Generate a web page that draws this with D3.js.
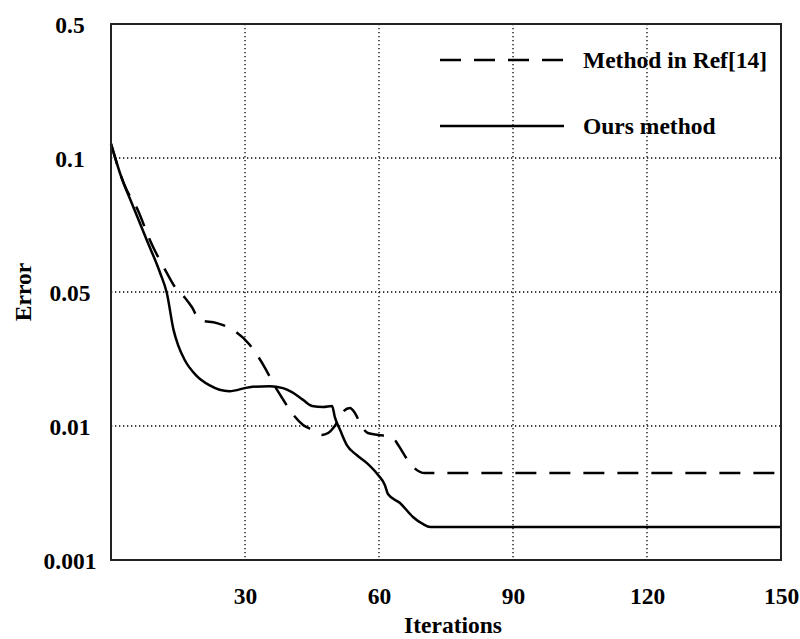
<!DOCTYPE html>
<html>
<head>
<meta charset="utf-8">
<script src="https://cdn.jsdelivr.net/npm/d3@7"></script>
<style>
	body {margin:0;background:#fff;}
	text {font-family:"Liberation Serif","Times New Roman",serif;font-weight:bold;fill:#000;}
	.grid {stroke:#000;stroke-width:1.3;stroke-dasharray:1.3,2.7;}
	.curve {fill:none;stroke:#000;stroke-width:2.5;}
</style>
</head>
<body>
<svg id="chart" width="800" height="639"></svg>
<script>
// values
var xTicks = [30, 60, 90, 120, 150];
var yTicks = [0.001, 0.01, 0.05, 0.1, 0.5];
var yTickLabels = ["0.001", "0.01", "0.05", "0.1", "0.5"];

var refIter = [0, 3, 6, 8.7, 12.5, 14.3, 16.6, 18.1, 19.9, 23.7, 27.3, 31.1, 32.7, 34.5, 36.3, 38.3, 40.5, 43, 45.2, 47.2, 48.6, 50.1, 51.9, 53.5, 54.6, 56.2, 57.5, 59.8, 62.9, 64.3, 65.4, 66.9, 70.3, 150];
var refError = [0.142, 0.0899, 0.0806, 0.0694, 0.0571, 0.0519, 0.0482, 0.0455, 0.0416, 0.0407, 0.0387, 0.0342, 0.0312, 0.0273, 0.0228, 0.0184, 0.0139, 0.0103, 0.00973, 0.0094, 0.00953, 0.01, 0.0142, 0.0154, 0.0139, 0.00993, 0.00953, 0.0094, 0.00926, 0.00872, 0.00819, 0.00751, 0.00684, 0.00684];

var oursIter = [0, 2, 5, 8, 11, 12.5, 14, 15, 16.5, 19, 22, 26.5, 31, 35.5, 38.5, 40.5, 43, 45, 47.5, 49.5, 50.1, 51.3, 52.8, 55, 57.3, 59.8, 61.3, 62, 64.7, 67.6, 69.8, 71.5, 150];
var oursError = [0.142, 0.0944, 0.0817, 0.0694, 0.0571, 0.0497, 0.0387, 0.0342, 0.0297, 0.0252, 0.0222, 0.0204, 0.0216, 0.0219, 0.0213, 0.0201, 0.0178, 0.016, 0.0157, 0.016, 0.0127, 0.00973, 0.00872, 0.00805, 0.00751, 0.00671, 0.00604, 0.00543, 0.00483, 0.00389, 0.00342, 0.00322, 0.00322];

var legendNames = ["Method in Ref[14]", "Ours method"];

var margin = {left: 111, top: 24, right: 19, bottom: 79},
	w = 800 - margin.left - margin.right,
	h = 639 - margin.top - margin.bottom,
	fontSize = "23.5px";

var svg = d3.select("#chart");
var vis = svg.append("svg:g")
	.attr("transform", "translate(" + margin.left + "," + margin.top + ")")
;

var xScale = d3.scaleLinear().domain([0, 150]).range([0, w]);
// ticks are evenly spaced on the picture, so the scale is piecewise
var yScale = d3.scaleLinear()
	.domain(yTicks)
	.range(yTicks.map(function(d, i) {return h - i * h / (yTicks.length - 1);}))
;

//Grid
vis.selectAll("line.xgrid")
	.data(xTicks.slice(0, -1))
	.enter().append("svg:line")
		.attr("class", "grid")
		.attr("x1", function(d) {return xScale(d);})
		.attr("x2", function(d) {return xScale(d);})
		.attr("y1", 0)
		.attr("y2", h)
;
vis.selectAll("line.ygrid")
	.data(yTicks.slice(1, -1))
	.enter().append("svg:line")
		.attr("class", "grid")
		.attr("x1", 0)
		.attr("x2", w)
		.attr("y1", function(d) {return yScale(d);})
		.attr("y2", function(d) {return yScale(d);})
;

//Axes, labels only
var xAxis = vis.append("svg:g")
	.attr("transform", "translate(0," + h + ")")
	.call(d3.axisBottom(xScale).tickValues(xTicks).tickSize(0).tickPadding(27))
;
var yAxis = vis.append("svg:g")
	.call(d3.axisLeft(yScale).tickValues(yTicks).tickSize(0)
		.tickFormat(function(d, i) {return yTickLabels[i];}))
;
[xAxis, yAxis].forEach(function(a) {
	a.select(".domain").remove();
	a.selectAll("text")
		.style("font-size", fontSize)
		.style("font-family", "'Liberation Serif', serif")
		.style("font-weight", "bold")
		.attr("fill", "#000")
	;
});
// y labels are centred in the left margin
yAxis.selectAll("text")
	.attr("x", 70 - margin.left)
	.attr("dy", "0.34em")
	.style("text-anchor", "middle")
;

vis.append("svg:text")
	.attr("x", w / 2 + 7)
	.attr("y", h + 73)
	.style("text-anchor", "middle")
	.style("font-size", fontSize)
	.text("Iterations")
;
vis.append("svg:text")
	.attr("transform", "translate(" + (31 - margin.left) + "," + (h / 2) + ") rotate(-90)")
	.style("text-anchor", "middle")
	.style("font-size", fontSize)
	.text("Error")
;

//Curves
var line = d3.line()
	.x(function(d) {return xScale(d[0]);})
	.y(function(d) {return yScale(d[1]);})
	.curve(d3.curveMonotoneX)
;
vis.append("svg:path")
	.attr("class", "curve")
	.attr("d", line(d3.zip(refIter, refError)))
	.style("stroke-dasharray", "21,13")
;
vis.append("svg:path")
	.attr("class", "curve")
	.attr("d", line(d3.zip(oursIter, oursError)))
;

//Border
vis.append("svg:rect")
	.attr("width", w)
	.attr("height", h)
	.style("fill", "none")
	.style("stroke", "#222")
	.style("stroke-width", 2)
;

//Legend
var legend = vis.selectAll("g.legend")
	.data(legendNames)
	.enter().append("svg:g")
		.attr("class", "legend")
		.attr("transform", function(d, i) {return "translate(329," + (36 + i * 66) + ")";})
;
legend.append("svg:line")
	.attr("class", "curve")
	.attr("x1", 0)
	.attr("x2", 124)
	.style("stroke-dasharray", function(d, i) {return i == 0 ? "21,13" : null;})
;
legend.append("svg:text")
	.attr("x", 143)
	.attr("dy", "0.34em")
	.style("font-size", fontSize)
	.text(function(d) {return d;})
;
</script>
</body>
</html>
